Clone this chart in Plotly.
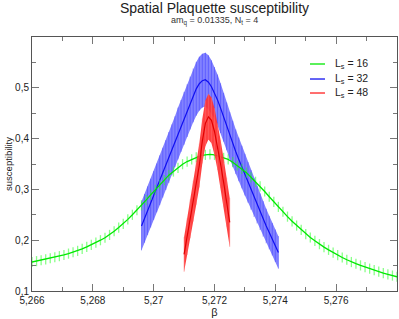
import plotly.graph_objects as go

# ---------------- data ----------------
# L_s = 16 (green): reweighted curve with error bars
beta16 = [round(5.266 + 0.00015 * i, 5) for i in range(81)]
chi16 = [0.157, 0.1588, 0.1606, 0.1624, 0.1644, 0.1665, 0.1686, 0.1709, 0.1736, 0.1763,
         0.179, 0.1829, 0.1868, 0.1907, 0.1952, 0.200, 0.2048, 0.2104, 0.2176, 0.2248,
         0.232, 0.241, 0.250, 0.259, 0.2688, 0.279, 0.2892, 0.2992, 0.3088, 0.3184,
         0.328, 0.3352, 0.3424, 0.3496, 0.3548, 0.359, 0.3632, 0.3665, 0.368, 0.3688,
         0.368, 0.365, 0.362, 0.359, 0.3536, 0.347, 0.3404, 0.333, 0.324, 0.315,
         0.306, 0.2958, 0.2856, 0.2754, 0.2656, 0.256, 0.2464, 0.2372, 0.2288, 0.2204,
         0.212, 0.2054, 0.1988, 0.1922, 0.1864, 0.181, 0.1756, 0.1705, 0.166, 0.1615,
         0.157, 0.1537, 0.1504, 0.1471, 0.144, 0.141, 0.138, 0.1352, 0.1328, 0.1304,
         0.128]
err16 = 0.010

# L_s = 32 (blue)
beta32 = [round(5.2696 + 0.0001 * i, 4) for i in range(46)]
chi32 = [0.228, 0.243, 0.258, 0.273, 0.288, 0.303, 0.318, 0.333, 0.348, 0.363,
         0.378, 0.394, 0.410, 0.425, 0.440, 0.455, 0.470, 0.485, 0.498, 0.508,
         0.514, 0.516, 0.511, 0.502, 0.490, 0.476, 0.460, 0.442, 0.424, 0.406,
         0.390, 0.374, 0.359, 0.344, 0.329, 0.314, 0.299, 0.284, 0.270, 0.256,
         0.242, 0.228, 0.215, 0.202, 0.189, 0.176]
err32 = [0.048, 0.048, 0.048, 0.048, 0.048, 0.048, 0.049, 0.049, 0.049, 0.050,
         0.050, 0.050, 0.051, 0.051, 0.052, 0.052, 0.052, 0.053, 0.053, 0.053,
         0.053, 0.053, 0.053, 0.052, 0.051, 0.050, 0.049, 0.048, 0.047, 0.046,
         0.045, 0.044, 0.043, 0.042, 0.041, 0.040, 0.039, 0.038, 0.037, 0.036,
         0.035, 0.034, 0.033, 0.032, 0.032, 0.032]

# L_s = 48 (red)
beta48 = [round(5.2710 + 0.0001 * i, 4) for i in range(16)]
chi48 = [0.172, 0.207, 0.242, 0.277, 0.312, 0.347, 0.395, 0.430, 0.443, 0.436,
         0.414, 0.384, 0.350, 0.314, 0.275, 0.235]
err48 = [0.034, 0.036, 0.038, 0.040, 0.042, 0.043, 0.044, 0.045, 0.045, 0.045,
         0.046, 0.046, 0.047, 0.047, 0.048, 0.048]

series_names = ["L<sub>s</sub> = 16", "L<sub>s</sub> = 32", "L<sub>s</sub> = 48"]
x_tickvals = [5.266, 5.268, 5.27, 5.272, 5.274, 5.276]
y_tickvals = [0.1, 0.2, 0.3, 0.4, 0.5]

FONT = "Liberation Sans, Arial, Helvetica, sans-serif"

fig = go.Figure()


def band(x, y, e, fillcol):
    up = [a + b for a, b in zip(y, e)]
    lo = [a - b for a, b in zip(y, e)]
    return go.Scatter(x=list(x) + list(x)[::-1], y=up + lo[::-1], fill="toself",
                      fillcolor=fillcol, line=dict(width=0), mode="lines",
                      hoverinfo="skip", showlegend=False)


# blue band
fig.add_trace(band(beta32, chi32, err32, "#8282ff"))
fig.add_trace(go.Scatter(x=beta32, y=chi32, mode="lines",
                         line=dict(color="#1010f0", width=1.2),
                         error_y=dict(type="data", array=err32, color="rgba(70,70,255,0.55)",
                                      thickness=1, width=0),
                         showlegend=False))
# green
fig.add_trace(go.Scatter(x=beta16, y=chi16, mode="lines",
                         line=dict(color="#00e800", width=1.3),
                         error_y=dict(type="constant", value=err16, color="rgba(40,255,40,0.55)",
                                      thickness=1.3, width=0),
                         showlegend=False))
# red band
fig.add_trace(band(beta48, chi48, err48, "rgba(255,50,50,0.92)"))
fig.add_trace(go.Scatter(x=beta48, y=chi48, mode="lines",
                         line=dict(color="#e00000", width=1.2),
                         error_y=dict(type="data", array=err48, color="rgba(255,110,110,0.5)",
                                      thickness=1, width=0),
                         showlegend=False))

# manual legend
leg_cols = ["#00e800", "#1010f0", "#ff2020"]
leg_y = [0.8937, 0.8346, 0.7795]
for name, col, yy in zip(series_names, leg_cols, leg_y):
    fig.add_shape(type="line", xref="paper", yref="paper", x0=0.7616, x1=0.8027,
                  y0=yy, y1=yy, line=dict(color=col, width=1.3))
    fig.add_annotation(xref="paper", yref="paper", x=0.8247, y=yy, text=name,
                       showarrow=False, xanchor="left", yanchor="middle",
                       font=dict(family=FONT, size=10.5, color="#222"))

fig.add_annotation(xref="paper", yref="paper", x=0.5, y=1.063,
                   text="am<sub>q</sub> = 0.01335, N<sub>t</sub> = 4",
                   showarrow=False, xanchor="center", yanchor="middle",
                   font=dict(family=FONT, size=9, color="#333"))

axis_common = dict(showline=True, linecolor="#555", linewidth=1, mirror="allticks",
                   ticks="inside", ticklen=7, tickcolor="#777", tickwidth=1,
                   showgrid=False, zeroline=False,
                   tickfont=dict(family=FONT, size=10, color="#222"))

fig.update_xaxes(range=[5.266, 5.278], tickmode="array", tickvals=x_tickvals,
                 minor=dict(ticks="inside", ticklen=4, dtick=0.001, tick0=5.266,
                            tickcolor="#777", showgrid=False),
                 title=dict(text="β", font=dict(family=FONT, size=11, color="#222"), standoff=0),
                 **axis_common)
fig.update_yaxes(range=[0.1, 0.6], tickmode="array", tickvals=y_tickvals,
                 minor=dict(ticks="inside", ticklen=4, dtick=0.05, tick0=0.1,
                            tickcolor="#777", showgrid=False),
                 title=dict(text="susceptibility", font=dict(family=FONT, size=9.5, color="#222"),
                            standoff=0),
                 **axis_common)

fig.update_layout(
    width=399, height=319,
    margin=dict(l=32, r=2, t=37, b=28),
    paper_bgcolor="white", plot_bgcolor="white",
    separators=", ",
    title=dict(text="Spatial Plaquette susceptibility", x=0.5, xref="paper",
               y=0.975, yanchor="middle",
               font=dict(family=FONT, size=14, color="#222")),
    showlegend=False,
)

# remove the default 8px page margin so the figure fills the window exactly
fig.write_html("out.html", config={"displayModeBar": False},
               post_script="document.body.style.margin='0';")
